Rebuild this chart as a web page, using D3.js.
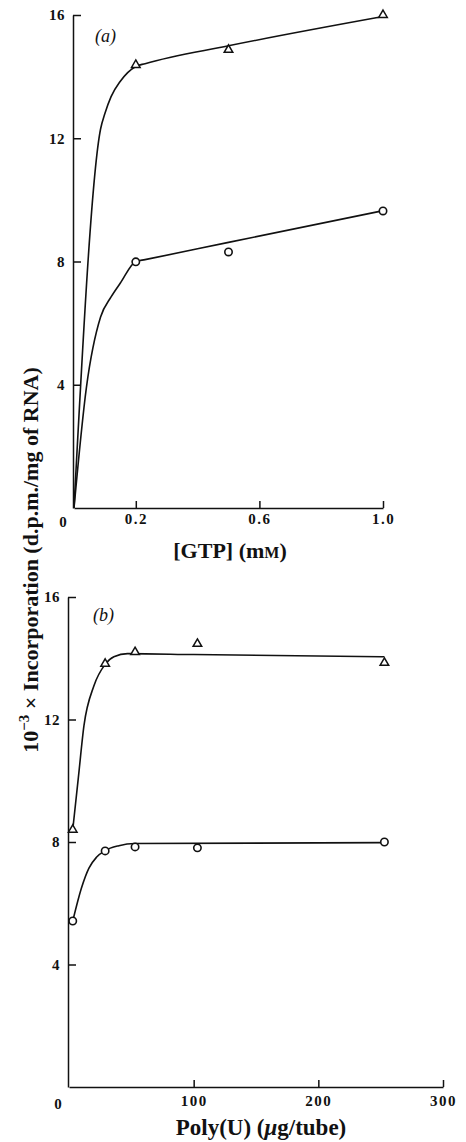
<!DOCTYPE html>
<html lang="en">

<head>
    <meta charset="UTF-8">
    <title>Incorporation vs GTP and Poly(U)</title>
    <style>
        * {
            margin: 0;
            padding: 0;
        }

        body {
            background: #fff;
        }

        svg text {
            font-family: "Liberation Serif", "Times New Roman", serif;
            fill: #111;
        }
    </style>
</head>

<body>
    <div id="chart"></div>
    <script src="https://cdn.jsdelivr.net/npm/d3@7"></script>
    <script>
        // (a) GTP concentration, measured points
        const gtpConc = [0.2, 0.5, 1.0]
        const gtpTriangle = [14.38, 14.87, 16.0]
        const gtpCircle = [7.99, 8.31, 9.64]
        // (a) hand-drawn curves
        const gtpTriCurveX = [0, 0.086, 0.1, 0.12, 0.15, 0.2, 0.23, 0.5, 1.0]
        const gtpTriCurveY = [0, 12.3, 12.8, 13.35, 13.85, 14.33, 14.42, 15.0, 15.95]
        const gtpCircCurveX = [0, 0.04, 0.086, 0.12, 0.15, 0.2, 0.23, 0.5, 1.0]
        const gtpCircCurveY = [0, 3.9, 6.2, 6.85, 7.3, 8.0, 8.06, 8.62, 9.65]

        // (b) Poly(U), measured points
        const polyU = [3, 29, 53, 103, 253]
        const polyTriangle = [8.4, 13.82, 14.2, 14.47, 13.85]
        const polyCircle = [5.42, 7.71, 7.84, 7.81, 8.0]
        // (b) hand-drawn curves
        const polyTriCurveX = [3, 7.5, 12, 20, 29, 36, 47, 100, 253]
        const polyTriCurveY = [8.4, 10.1, 11.8, 13.1, 13.8, 14.05, 14.15, 14.12, 14.05]
        const polyCircCurveX = [3, 10, 16, 22, 29, 40, 53, 253]
        const polyCircCurveY = [5.42, 6.5, 7.15, 7.5, 7.72, 7.88, 7.95, 7.98]

        const yTicks = [4, 8, 12, 16]
        const gtpTicks = [0.2, 0.6, 1.0]
        const polyTicks = [100, 200, 300]

        function zip(xs, ys) {
            return xs.map((x, i) => [x, ys[i]])
        }

        function drawChart() {
            const width = 466
            const height = 1142

            const svg = d3.select('#chart')
                .append('svg')
                .attr('width', width)
                .attr('height', height)

            const xA = d3.scaleLinear().domain([0, 1]).range([74, 383])
            const yA = d3.scaleLinear().domain([0, 16]).range([508, 15])
            const xB = d3.scaleLinear().domain([0, 300]).range([69, 443])
            const yB = d3.scaleLinear().domain([0, 16]).range([1087, 597])

            const triangle = d3.symbol().type(d3.symbolTriangle).size(32)

            function drawPanel(x, y, xTicks, xFormat, xPad, curves, points) {
                const g = svg.append('g')

                // y axis, ticks pointing inwards
                g.append('g')
                    .attr('transform', `translate(${x.range()[0] - 1}, 0)`)
                    .call(d3.axisLeft(y).tickValues(yTicks).tickSizeInner(-8).tickSizeOuter(0).tickPadding(8))
                    .call(a => a.selectAll('text').style('font-size', '15px').style('font-weight', 'bold').style('letter-spacing', '0.5px'))

                // x axis
                g.append('g')
                    .attr('transform', `translate(0, ${y(0)})`)
                    .call(d3.axisBottom(x).tickValues(xTicks).tickFormat(xFormat).tickSizeInner(-7).tickSizeOuter(0).tickPadding(xPad))
                    .call(a => a.selectAll('text').style('font-size', '15px').style('font-weight', 'bold').style('letter-spacing', '1.5px'))

                g.selectAll('.domain, .tick line')
                    .attr('stroke', '#111')
                    .attr('stroke-width', 1.5)

                // origin label
                g.append('text')
                    .attr('x', x(0) - 11)
                    .attr('y', y(0) + xPad + 14)
                    .attr('text-anchor', 'middle')
                    .style('font-size', '15px')
                    .style('font-weight', 'bold')
                    .text('0')

                const line = d3.line()
                    .x(d => x(d[0]))
                    .y(d => y(d[1]))
                    .curve(d3.curveMonotoneX)

                g.selectAll('path.curve')
                    .data(curves)
                    .join('path')
                    .attr('class', 'curve')
                    .attr('d', line)
                    .attr('fill', 'none')
                    .attr('stroke', '#111')
                    .attr('stroke-width', 1.6)

                g.selectAll('path.tri')
                    .data(points.tri)
                    .join('path')
                    .attr('class', 'tri')
                    .attr('transform', d => `translate(${x(d[0])}, ${y(d[1])})`)
                    .attr('d', triangle)
                    .attr('fill', '#fff')
                    .attr('stroke', '#111')
                    .attr('stroke-width', 1.5)

                g.selectAll('circle.circ')
                    .data(points.circ)
                    .join('circle')
                    .attr('class', 'circ')
                    .attr('cx', d => x(d[0]))
                    .attr('cy', d => y(d[1]))
                    .attr('r', 3.7)
                    .attr('fill', '#fff')
                    .attr('stroke', '#111')
                    .attr('stroke-width', 1.6)

                return g
            }

            const panelA = drawPanel(xA, yA, gtpTicks, d3.format('.1f'), 5,
                [zip(gtpTriCurveX, gtpTriCurveY), zip(gtpCircCurveX, gtpCircCurveY)],
                { tri: zip(gtpConc, gtpTriangle), circ: zip(gtpConc, gtpCircle) })

            const panelB = drawPanel(xB, yB, polyTicks, d3.format('d'), 8,
                [zip(polyTriCurveX, polyTriCurveY), zip(polyCircCurveX, polyCircCurveY)],
                { tri: zip(polyU, polyTriangle), circ: zip(polyU, polyCircle) })

            // panel letters
            panelA.append('text')
                .attr('x', 95)
                .attr('y', 42)
                .style('font-size', '18px')
                .style('font-style', 'italic')
                .text('(a)')

            panelB.append('text')
                .attr('x', 93)
                .attr('y', 621)
                .style('font-size', '18px')
                .style('font-style', 'italic')
                .text('(b)')

            // x axis titles
            const titleA = svg.append('text')
                .attr('x', 230)
                .attr('y', 558)
                .attr('text-anchor', 'middle')
                .style('font-size', '22px')
                .style('font-weight', 'bold')
            titleA.append('tspan').text('[GTP] (m')
            titleA.append('tspan').style('font-size', '16px').text('M')
            titleA.append('tspan').text(')')

            const titleB = svg.append('text')
                .attr('x', 261)
                .attr('y', 1135)
                .attr('text-anchor', 'middle')
                .style('font-size', '23px')
                .style('font-weight', 'bold')
            titleB.append('tspan').text('Poly(U) (')
            titleB.append('tspan').style('font-style', 'italic').text('μ')
            titleB.append('tspan').text('g/tube)')

            // shared y axis title
            const yTitle = svg.append('text')
                .attr('transform', 'translate(38, 560) rotate(-90)')
                .attr('text-anchor', 'middle')
                .style('font-size', '22px')
                .style('font-weight', 'bold')
            yTitle.append('tspan').text('10')
            yTitle.append('tspan').attr('dy', -9).style('font-size', '15px').text('−3')
            yTitle.append('tspan').attr('dy', 9).text(' × Incorporation (d.p.m./mg of RNA)')
        }

        drawChart()
    </script>
</body>

</html>
